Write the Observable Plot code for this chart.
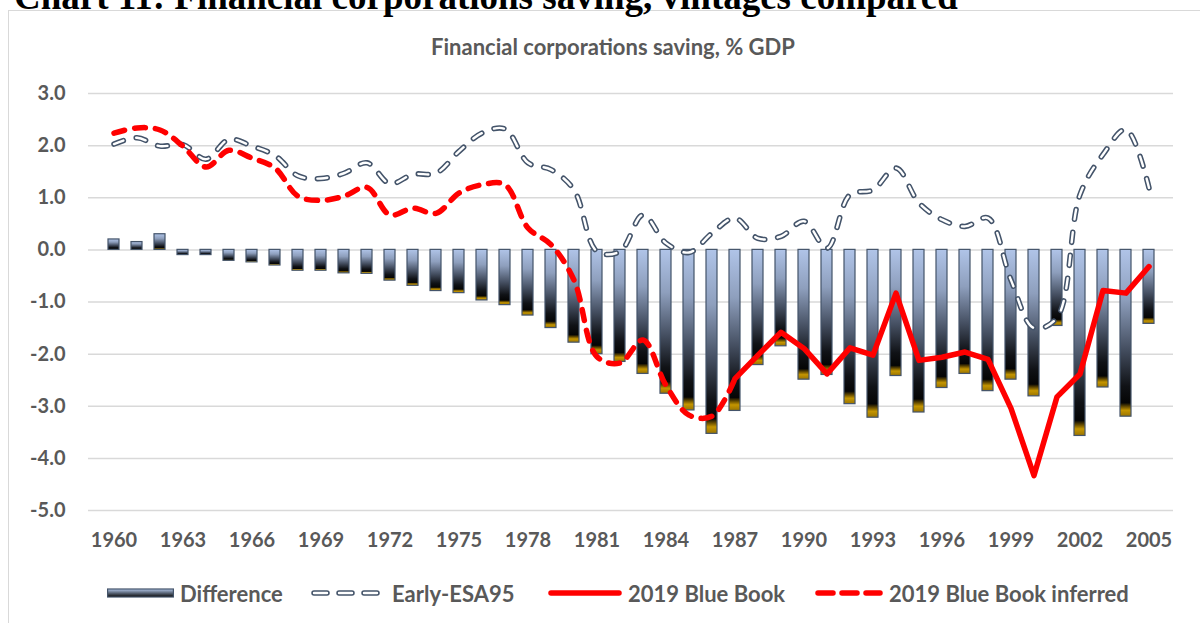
<!DOCTYPE html>
<html>
<head>
<meta charset="utf-8">
<script src="https://cdn.jsdelivr.net/npm/d3@7"></script>
<script src="https://cdn.jsdelivr.net/npm/@observablehq/plot@0.6"></script>
<style>
  html, body { margin: 0; padding: 0; background: #fff; }
  body { width: 1200px; height: 623px; overflow: hidden; position: relative; font-family: Lato, "Open Sans", sans-serif; }
  #title { position: absolute; left: 14px; top: -22px; font-family: "Liberation Serif", "Times New Roman", serif; font-weight: bold; font-size: 37px; line-height: 1; color: #000; white-space: nowrap; }
  #frame { position: absolute; left: 8px; top: 10px; width: 1260px; height: 700px; border: 1.5px solid #D9D9D9; box-sizing: border-box; }
  #subtitle { position: absolute; left: 0; width: 1226px; top: 33px; text-align: center; font-weight: bold; font-size: 22px; color: #595959; white-space: nowrap; }
  #chart { position: absolute; left: 0; top: 70px; }
  #legend { position: absolute; left: 0; top: 580px; width: 1200px; height: 26px; }
  .item { position: absolute; top: 0; height: 26px; display: flex; align-items: center; }
  .item span { font-weight: bold; font-size: 22px; color: #595959; white-space: nowrap; margin-left: 6px; }
</style>
</head>
<body>
<div id="frame"></div>
<div id="title">Chart 11: Financial corporations saving, vintages compared</div>
<div id="subtitle">Financial corporations saving, % GDP</div>
<div id="chart"></div>
<div id="legend"></div>
<script>
// ---- data ----
const years = d3.range(1960, 2006);
const difference = [0.2, 0.15, 0.3, -0.1, -0.1, -0.21, -0.24, -0.3, -0.4, -0.4, -0.45, -0.46, -0.59,
  -0.69, -0.79, -0.83, -0.97, -1.06, -1.26, -1.5,
  -1.78, -2.0, -2.15, -2.38, -2.76, -3.08, -3.53, -3.09, -2.21, -1.85,
  -2.49, -2.4, -2.96, -3.22, -2.42, -3.12, -2.65, -2.38, -2.71, -2.49, -2.81, -1.46, -3.57, -2.64, -3.2, -1.42];
const earlyESA95 = [2.03, 2.15, 1.99, 2.02, 1.74, 2.12, 1.99, 1.81, 1.42, 1.37, 1.47, 1.67, 1.27,
  1.45, 1.47, 1.89, 2.24, 2.32, 1.67, 1.54,
  1.15, -0.03, -0.03, 0.67, 0.13, -0.05, 0.32, 0.61, 0.22, 0.26,
  0.55, 0.03, 1.06, 1.15, 1.57, 0.9, 0.58, 0.45, 0.61, -0.58, -1.5, -1.3, 1.06, 1.83, 2.31, 1.19];
const blueBookYears = d3.range(1987, 2006);
const blueBook2019 = [-2.47, -2.02, -1.58, -1.89, -2.38, -1.88, -2.02, -0.83, -2.12, -2.06, -1.96, -2.1,
  -3.04, -4.33, -2.82, -2.38, -0.78, -0.83, -0.32];
const inferredYears = d3.range(1960, 1988);
const blueBookInferred = [2.24, 2.34, 2.3, 1.99, 1.59, 1.91, 1.76, 1.57, 1.03, 0.95, 1.03, 1.2, 0.67,
  0.8, 0.7, 1.09, 1.25, 1.25, 0.42, 0.1,
  -0.58, -2.05, -2.17, -1.73, -2.6, -3.17, -3.19, -2.47];
const yTicks = [3, 2, 1, 0, -1, -2, -3, -4, -5];
const xTickLabels = [1960, 1963, 1966, 1969, 1972, 1975, 1978, 1981, 1984, 1987, 1990, 1993, 1996, 1999, 2002, 2005];
const seriesNames = ["Difference", "Early-ESA95", "2019 Blue Book", "2019 Blue Book inferred"];

// ---- tables built from the arrays ----
const barData = years.map((year, i) => ({year, value: difference[i]}));
const earlyData = years.map((year, i) => ({year, value: earlyESA95[i]}));
const bbData = blueBookYears.map((year, i) => ({year, value: blueBook2019[i]}));
const infData = inferredYears.map((year, i) => ({year, value: blueBookInferred[i]}));

const slate = "#44546A";
const red = "#FF0000";
const earlyDash = "10,13";
const redDash = "11,10";

const chart = Plot.plot({
  width: 1200,
  height: 480,
  marginTop: 23,
  marginBottom: 40,
  marginLeft: 88,
  marginRight: 27,
  x: {type: "band", domain: years, paddingInner: 0.53, paddingOuter: 0.265, label: null},
  y: {domain: [-5, 3], label: null},
  style: {fontFamily: "Lato, 'Open Sans', sans-serif", fontSize: "20px", fontWeight: "bold", color: "#595959", background: "transparent", overflow: "visible"},
  marks: [
    Plot.ruleY(yTicks, {stroke: "#D9D9D9", strokeWidth: 1.5, strokeOpacity: 1}),
    Plot.barY(barData, {x: "year", y: "value", fill: "url(#diffGrad)", stroke: slate, strokeWidth: 1.2}),
    Plot.lineY(earlyData, {x: "year", y: "value", stroke: slate, strokeWidth: 5.5, strokeDasharray: earlyDash, strokeLinecap: "round", strokeLinejoin: "round", curve: "catmull-rom"}),
    Plot.lineY(earlyData, {x: "year", y: "value", stroke: "#fff", strokeWidth: 2.4, strokeDasharray: earlyDash, strokeLinecap: "round", strokeLinejoin: "round", curve: "catmull-rom"}),
    Plot.lineY(bbData, {x: "year", y: "value", stroke: red, strokeWidth: 5.5, strokeLinejoin: "round", strokeLinecap: "round"}),
    Plot.lineY(infData, {x: "year", y: "value", stroke: red, strokeWidth: 5.5, strokeDasharray: redDash, strokeLinecap: "round", strokeLinejoin: "round", curve: "catmull-rom"}),
    Plot.axisY({ticks: yTicks, tickSize: 0, tickPadding: 23, tickFormat: d => d.toFixed(1), label: null}),
    Plot.axisX({ticks: xTickLabels, tickSize: 0, tickPadding: 22, tickFormat: d => String(d), label: null})
  ]
});

function addGradient(sel, id) {
  const g = sel.append("linearGradient").attr("id", id)
    .attr("x1", 0).attr("y1", 0).attr("x2", 0).attr("y2", 1);
  [[0, "#B0C4E8"], [0.3, "#8E9FBD"], [0.6, "#444E60"], [0.82, "#101216"], [0.92, "#050505"], [0.94, "#5A4300"], [0.965, "#C49500"], [1, "#9A7400"]]
    .forEach(([o, c]) => g.append("stop").attr("offset", o).attr("stop-color", c));
}
const defs = d3.select(chart).insert("defs", ":first-child");
addGradient(defs, "diffGrad");
document.getElementById("chart").appendChild(chart);

// ---- legend ----
const legendPos = [{sw: 107, w: 67}, {sw: 310, w: 76}, {sw: 548, w: 74}, {sw: 815, w: 68}];
const legend = d3.select("#legend");
seriesNames.forEach((name, i) => {
  const item = legend.append("div").attr("class", "item").style("left", legendPos[i].sw + "px");
  const w = legendPos[i].w;
  const s = item.append("svg").attr("width", w).attr("height", 26);
  if (i === 0) {
    const ld = s.append("defs");
    const g = ld.append("linearGradient").attr("id", "legGrad").attr("x1", 0).attr("y1", 0).attr("x2", 0).attr("y2", 1);
    [[0, "#B4C8EA"], [0.5, "#5A6678"], [1, "#0A0A0A"]].forEach(([o, c]) => g.append("stop").attr("offset", o).attr("stop-color", c));
    s.append("rect").attr("x", 0.6).attr("y", 9).attr("width", w - 1.2).attr("height", 8).attr("fill", "url(#legGrad)").attr("stroke", slate).attr("stroke-width", 1.2);
  } else if (i === 1) {
    s.append("line").attr("x1", 4).attr("x2", w - 4).attr("y1", 13).attr("y2", 13).attr("stroke", slate).attr("stroke-width", 5.5).attr("stroke-dasharray", "13,12").attr("stroke-linecap", "round");
    s.append("line").attr("x1", 4).attr("x2", w - 4).attr("y1", 13).attr("y2", 13).attr("stroke", "#fff").attr("stroke-width", 2.4).attr("stroke-dasharray", "13,12").attr("stroke-linecap", "round");
  } else if (i === 2) {
    s.append("line").attr("x1", 3).attr("x2", w - 3).attr("y1", 13).attr("y2", 13).attr("stroke", red).attr("stroke-width", 5.5).attr("stroke-linecap", "round");
  } else {
    s.append("line").attr("x1", 3).attr("x2", w - 3).attr("y1", 13).attr("y2", 13).attr("stroke", red).attr("stroke-width", 5.5).attr("stroke-dasharray", "15,9").attr("stroke-linecap", "round");
  }
  item.append("span").text(name);
});
</script>
</body>
</html>
